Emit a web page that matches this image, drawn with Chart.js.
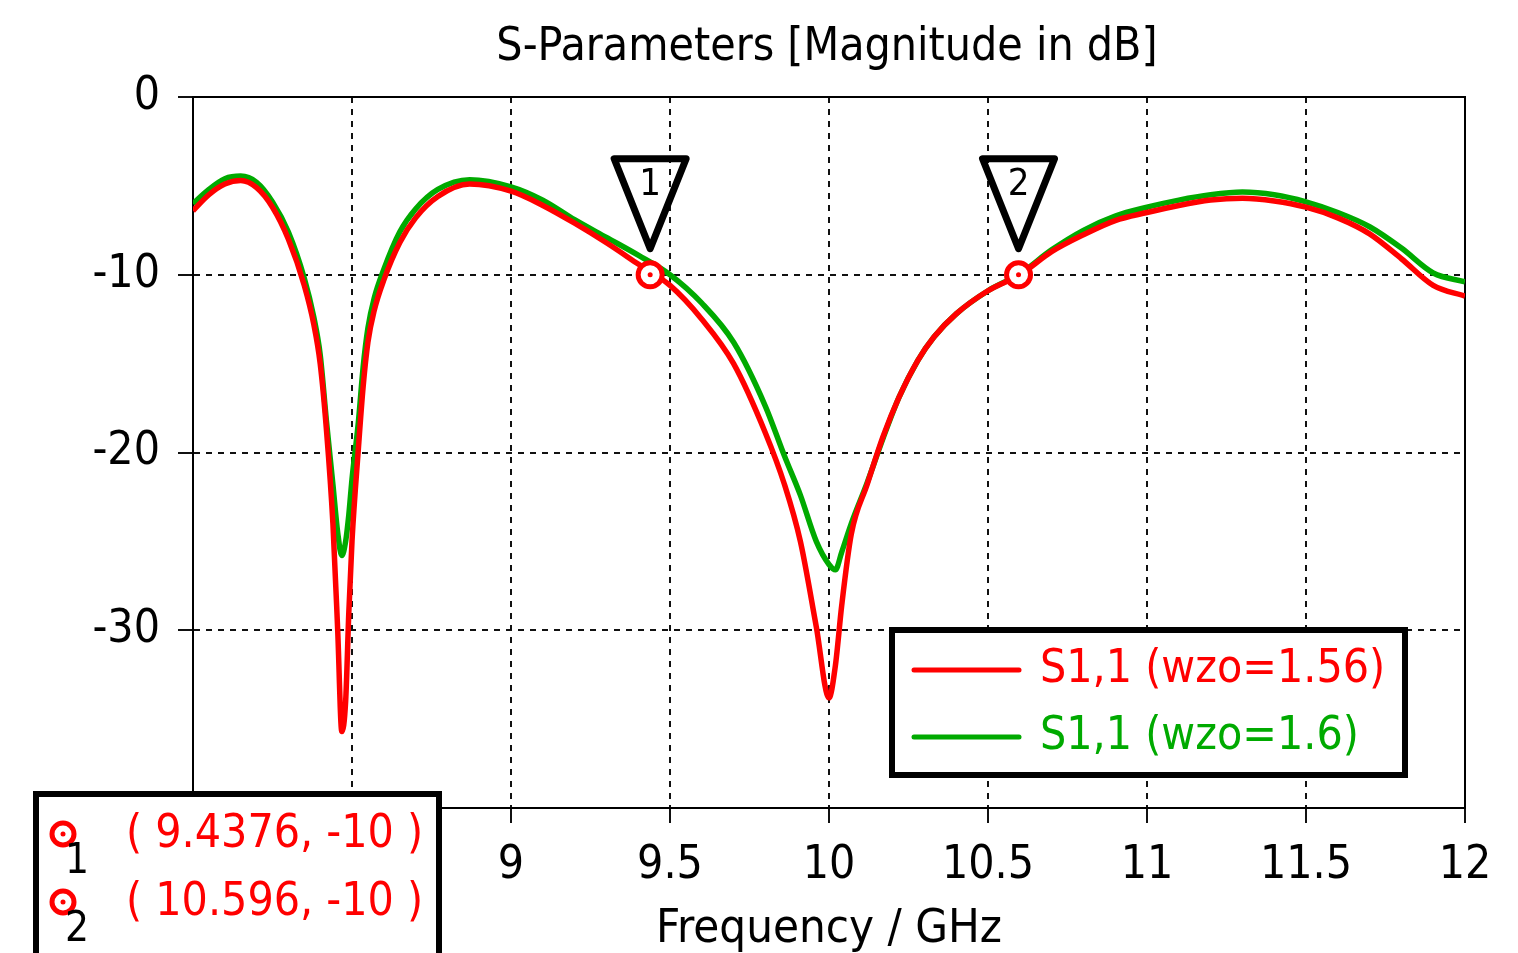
<!DOCTYPE html>
<html>
<head>
<meta charset="utf-8">
<script src="https://cdn.jsdelivr.net/npm/chart.js@4.4.0/dist/chart.umd.min.js"></script>
<style>
  body { margin: 0; background: #fff; }
  #wrap { width: 1518px; height: 953px; }
</style>
</head>
<body>
<div id="wrap"><canvas id="sparChart" width="1518" height="953"></canvas></div>
<script>
// frequency in GHz, S11 in dB
const freq = [8.00, 8.05, 8.10, 8.15, 8.20, 8.25, 8.30, 8.35, 8.38, 8.40, 8.42, 8.44, 8.455, 8.468, 8.48, 8.49, 8.50,
  8.52, 8.535, 8.55, 8.57, 8.60, 8.65, 8.70, 8.77, 8.87, 9.00, 9.10, 9.20, 9.30, 9.40, 9.50, 9.60, 9.70, 9.80, 9.86, 9.91,
  9.96, 10.00, 10.02, 10.04, 10.07, 10.12, 10.17, 10.22, 10.28, 10.33, 10.40, 10.50, 10.60, 10.70, 10.80, 10.90,
  11.00, 11.10, 11.20, 11.30, 11.40, 11.50, 11.60, 11.70, 11.80, 11.90, 12.00];

const s11_wzo156 = [-6.4, -5.5, -4.9, -4.7, -5.1, -6.2, -8.0, -10.6, -12.8, -15.0, -18.8, -24.0, -30.0, -35.7, -34.0, -29.0, -25.0,
  -19.8, -16.3, -13.8, -12.0, -10.3, -8.2, -6.8, -5.6, -4.9, -5.3, -6.1, -7.1, -8.2, -9.4, -10.6, -12.5, -15.0, -18.9, -21.8, -25.0,
  -29.8, -33.8, -32.0, -28.6, -24.6, -21.8, -19.1, -16.9, -14.8, -13.5, -12.2, -10.9, -10.0, -8.7, -7.75, -6.95,
  -6.5, -6.1, -5.8, -5.7, -5.85, -6.2, -6.8, -7.7, -9.1, -10.6, -11.2];

const s11_wzo16 = [-6.0, -5.2, -4.6, -4.45, -4.8, -5.9, -7.6, -10.2, -12.4, -14.5, -18.3, -21.8, -24.5, -25.8, -25.0, -23.5, -21.5,
  -18.3, -15.2, -13.0, -11.3, -9.7, -7.6, -6.3, -5.2, -4.65, -5.05, -5.8, -6.9, -7.9, -8.9, -10.0, -11.6, -13.8, -17.4, -20.2, -22.4,
  -25.0, -26.3, -26.6, -25.6, -24.0, -21.7, -19.2, -16.9, -14.8, -13.5, -12.2, -10.9, -9.95, -8.6, -7.5, -6.7,
  -6.2, -5.8, -5.5, -5.35, -5.5, -5.9, -6.5, -7.3, -8.5, -9.9, -10.4];

const seriesNames = ['S1,1 (wzo=1.56)', 'S1,1 (wzo=1.6)'];
const seriesColors = ['#ff0000', '#00aa00'];

const markerFreq = [9.4376, 10.596];
const markerDb = [-10, -10];
const markerNames = ['1', '2'];

const FONT = "'DejaVu Sans Condensed', 'DejaVu Sans', sans-serif";

const toPoints = (xs, ys) => xs.map((x, i) => ({ x: x, y: ys[i] }));

// red marker ring with a dot in the middle
const drawRing = (ctx, x, y, r) => {
  ctx.strokeStyle = '#ff0000';
  ctx.lineWidth = 5;
  ctx.fillStyle = '#fff';
  ctx.beginPath();
  ctx.arc(x, y, r, 0, Math.PI * 2);
  ctx.fill();
  ctx.stroke();
  ctx.fillStyle = '#ff0000';
  ctx.beginPath();
  ctx.arc(x, y, 2.5, 0, Math.PI * 2);
  ctx.fill();
};

const decor = {
  id: 'decor',
  beforeDatasetsDraw(chart) {
    const ctx = chart.ctx;
    const a = chart.chartArea;
    ctx.save();
    ctx.strokeStyle = '#000';
    ctx.lineWidth = 2;
    ctx.strokeRect(a.left, a.top, a.right - a.left, a.bottom - a.top);
    ctx.restore();
  },
  afterDatasetsDraw(chart) {
    const ctx = chart.ctx;
    const xs = chart.scales.x;
    const ys = chart.scales.y;
    ctx.save();
    markerFreq.forEach((f, i) => {
      const px = xs.getPixelForValue(f);
      const py = ys.getPixelForValue(markerDb[i]);
      drawRing(ctx, px, py, 12);
      // triangle flag
      ctx.strokeStyle = '#000';
      ctx.lineWidth = 7;
      ctx.lineJoin = 'round';
      ctx.beginPath();
      ctx.moveTo(px - 36, py - 116);
      ctx.lineTo(px + 36, py - 116);
      ctx.lineTo(px, py - 26);
      ctx.closePath();
      ctx.stroke();
      ctx.fillStyle = '#000';
      ctx.font = '38px ' + FONT;
      ctx.textAlign = 'center';
      ctx.textBaseline = 'middle';
      ctx.fillText(markerNames[i], px, py - 90);
    });
    ctx.restore();
  },
  afterDraw(chart) {
    const ctx = chart.ctx;
    const a = chart.chartArea;
    ctx.save();
    // title
    ctx.fillStyle = '#000';
    ctx.font = '46px ' + FONT;
    ctx.textAlign = 'center';
    ctx.textBaseline = 'middle';
    ctx.fillText('S-Parameters [Magnitude in dB]', (a.left + a.right) / 2 - 2, 48);

    // legend
    ctx.fillStyle = '#fff';
    ctx.fillRect(892, 630, 513, 145);
    ctx.strokeStyle = '#000';
    ctx.lineWidth = 6;
    ctx.strokeRect(892, 630, 513, 145);
    ctx.lineCap = 'round';
    ctx.textAlign = 'left';
    ctx.font = '46px ' + FONT;
    seriesNames.forEach((name, i) => {
      const ly = 670 + i * 67;
      ctx.strokeStyle = seriesColors[i];
      ctx.lineWidth = 5;
      ctx.beginPath();
      ctx.moveTo(914, ly);
      ctx.lineTo(1019, ly);
      ctx.stroke();
      ctx.fillStyle = seriesColors[i];
      ctx.fillText(name, 1040, ly);
    });
    ctx.lineCap = 'butt';

    // marker readout box
    ctx.fillStyle = '#fff';
    ctx.fillRect(36, 794, 403, 170);
    ctx.strokeStyle = '#000';
    ctx.lineWidth = 6;
    ctx.strokeRect(36, 794, 403, 170);
    markerFreq.forEach((f, i) => {
      const ry = 834 + i * 68;
      drawRing(ctx, 63, ry, 11);
      ctx.fillStyle = '#000';
      ctx.font = '42px ' + FONT;
      ctx.textAlign = 'center';
      ctx.fillText(markerNames[i], 77, ry + 28);
      ctx.fillStyle = '#ff0000';
      ctx.font = '46px ' + FONT;
      ctx.textAlign = 'left';
      ctx.fillText('( ' + f + ', ' + markerDb[i] + ' )', 126, ry + 1);
    });
    ctx.restore();
  }
};

const ctx = document.getElementById('sparChart').getContext('2d');
const chart = new Chart(ctx, {
  type: 'line',
  data: {
    datasets: [
      {
        type: 'scatter',
        label: 'markers',
        data: toPoints(markerFreq, markerDb),
        pointRadius: 0,
        showLine: false,
        order: 0
      },
      {
        label: seriesNames[1],
        data: toPoints(freq, s11_wzo16),
        borderColor: seriesColors[1],
        borderWidth: 5.5,
        pointRadius: 0,
        cubicInterpolationMode: 'monotone',
        fill: false,
        order: 2
      },
      {
        label: seriesNames[0],
        data: toPoints(freq, s11_wzo156),
        borderColor: seriesColors[0],
        borderWidth: 5.5,
        pointRadius: 0,
        cubicInterpolationMode: 'monotone',
        fill: false,
        order: 1
      }
    ]
  },
  options: {
    responsive: false,
    animation: false,
    layout: { padding: { top: 97, right: 53, bottom: 0, left: 0 } },
    plugins: {
      legend: { display: false },
      title: { display: false },
      tooltip: { enabled: false }
    },
    scales: {
      x: {
        type: 'linear',
        min: 8,
        max: 12,
        ticks: {
          stepSize: 0.5, color: '#000', font: { family: FONT, size: 46 }, padding: 15, maxRotation: 0,
          callback: (v) => String(v)
        },
        grid: { color: '#111', lineWidth: 2, tickLength: 15, tickBorderDash: [], tickColor: '#111' },
        border: { display: true, color: '#000', width: 2, dash: [6, 6] },
        title: { display: true, text: 'Frequency / GHz', color: '#000', font: { family: FONT, size: 47, lineHeight: 1.0 }, padding: { top: 0, bottom: 0 } },
        afterFit: (scale) => { scale.height = 145; }
      },
      y: {
        min: -40,
        max: 0,
        ticks: {
          stepSize: 10, color: '#000', font: { family: FONT, size: 46 }, padding: 18,
          callback: (v) => (v <= -40 ? '' : String(v))
        },
        grid: { color: '#111', lineWidth: 2, tickLength: 15, tickBorderDash: [], tickColor: '#111' },
        border: { display: true, color: '#000', width: 2, dash: [6, 6] },
        afterFit: (scale) => { scale.width = 193; }
      }
    }
  },
  plugins: [decor]
});
</script>
</body>
</html>
